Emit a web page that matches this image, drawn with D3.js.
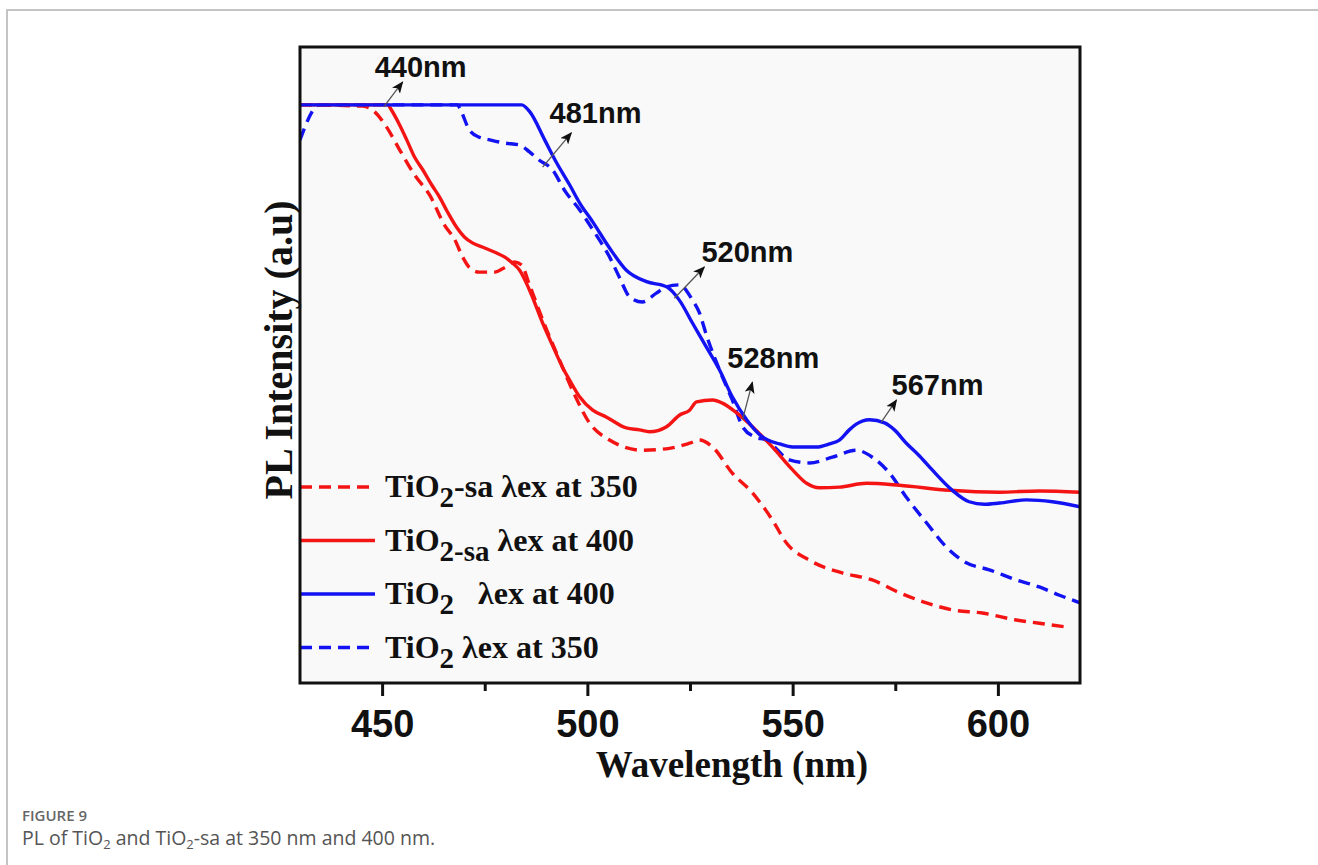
<!DOCTYPE html>
<html>
<head>
<meta charset="utf-8">
<script src="https://cdn.jsdelivr.net/npm/d3@7"></script>
<style>
  body { margin: 0; background: #fff; }
  svg { display: block; }
  text { white-space: pre; }
</style>
</head>
<body>
<svg id="chart" width="1318" height="865"></svg>
<script>
// PL spectra, [wavelength (nm), intensity (a.u.)]
var tio2sa350 = [[430,90.9],[445.3,90.7],[448.2,89.8],[451.1,87.4],[454.3,83.8],[457.9,79.9],[461.6,76.7],[465.2,72],[467.7,69.7],[469.6,67],[471.3,65.3],[473.7,64.6],[477.4,64.6],[479.8,65.3],[482.3,66.2],[484,65.7],[485.9,62.6],[489.6,56.3],[493.2,50.8],[496.9,45.3],[500.5,40.9],[505.4,38.2],[513.4,36.6],[520,36.9],[524.9,37.7],[527.3,38.2],[530.5,37.1],[535.3,33],[540.2,29.9],[545.1,25.6],[548.5,22],[554.1,19.3],[562.1,17.3],[569.4,16.2],[576,14.2],[582.6,12.6],[588.9,11.5],[596.2,11],[604.5,9.9],[610.1,9.4],[616.7,8.8]];
var tio2sa400 = [[430,90.9],[451.5,90.9],[451.8,90.6],[454.3,87.7],[456,85.4],[457.9,82.7],[459.9,80.7],[462.1,78.3],[464,76.4],[465.9,74.1],[468.1,71.7],[470.1,70.1],[472,69.2],[475,68.4],[477.9,67.6],[479.8,67],[481.8,66],[483.5,64.9],[485.9,61.8],[489.1,56.6],[491.5,53.1],[493.9,49.7],[495.7,47.6],[498.1,45],[501.3,42.9],[504.7,41.8],[509.5,40.1],[512.7,39.8],[515.1,39.5],[519.3,40.3],[522.4,42.1],[524.9,42.9],[526.6,44.2],[530.5,44.5],[532.9,44],[536.3,42.5],[540.2,40.3],[545.1,37.1],[550,33.5],[553.4,31.4],[556.5,30.7],[561.4,30.8],[568,31.4],[576,31.1],[588.2,30.3],[600.4,30],[610.1,30.2],[620,30]];
var tio2_400 = [[430,90.9],[484,90.9],[486,89.8],[489.6,85.4],[492.5,81.8],[495.7,78.3],[498.1,75.5],[501.3,72.5],[505.4,68.4],[509.5,64.9],[514.4,63.1],[519.3,62.3],[522.4,60.2],[525.6,56.6],[529,52.8],[532.2,49.2],[535.3,45],[538.8,41.4],[542.6,38.7],[546.8,37.6],[550,37.1],[555.8,37.1],[559,37.6],[561.4,38.2],[563.8,39.8],[565.5,40.7],[568.7,41.4],[572.4,40.9],[574.8,39.8],[577.7,37.7],[580.9,35.7],[584,33.5],[588.9,30.3],[593,28.5],[596.7,28.1],[600.4,28.3],[606.9,28.8],[613.3,28.5],[620,27.7]];
var tio2_350 = [[430,85.4],[434.8,90.9],[468.4,90.9],[468.9,90.4],[471.3,86.9],[473.7,85.8],[476.2,85.4],[479.8,84.9],[483.5,84.6],[485.9,83.5],[488.3,82.2],[491.5,80.7],[494.4,77.5],[498.1,74.4],[501.7,70.9],[505.4,67],[507.8,63.8],[510.3,60.7],[513.4,59.9],[516.8,61.3],[519.3,62.3],[522.4,62.6],[525.6,60.2],[527.3,58.2],[529,54.7],[532.2,49.2],[535.3,44.5],[537.8,40.3],[540.7,38.7],[543.6,38.2],[549.2,35.1],[554.1,34.6],[559.7,35.5],[565.5,36.6],[569.4,35.5],[573.6,33],[577.7,29.2],[582.6,25.2],[587.4,21.4],[592.3,18.9],[597.9,17.8],[604.5,16.2],[610.1,15.1],[615,13.8],[620,12.6]];

var majorTicks = [450, 500, 550, 600];
var minorTicks = [475, 525, 575];

// peak annotations: label, label anchor, arrow tail, arrow tip (data units)
var peakLabels = ["440nm", "481nm", "520nm", "528nm", "567nm"];
var peakTextAt = [[448.2,95.3],[490.8,88.1],[527.8,66.2],[534.1,49.5],[574.1,45.3]];
var peakArrowFrom = [[450.4,90.6],[489.1,81.1],[521.2,60.5],[537.8,41.4],[571.6,41.0]];
var peakArrowTo = [[455.0,94.5],[496.1,86.5],[528.5,65.4],[540.2,47.3],[575.3,44.5]];

// legend rows, in the order of the figure legend
var legendMain = ["TiO", "TiO", "TiO", "TiO"];
var legendSub = ["2", "2-sa", "2", "2"];
var legendRest = ["-sa \u03bbex at 350", " \u03bbex at 400", "   \u03bbex at 400", " \u03bbex at 350"];

var RED = "#f41414", BLUE = "#1212f2";
var series = [
  {data: tio2sa350, color: RED, dash: "12,7"},
  {data: tio2_350, color: BLUE, dash: "12,7"},
  {data: tio2sa400, color: RED, dash: null},
  {data: tio2_400, color: BLUE, dash: null}
];
var legendSeries = [series[0], series[2], series[3], series[1]];

var svg = d3.select("#chart");

var margin = {top: 47, right: 238, bottom: 182, left: 300},
    width = 1318 - margin.left - margin.right,
    height = 865 - margin.top - margin.bottom;

var x = d3.scaleLinear().domain([430, 620]).range([0, width]);
var y = d3.scaleLinear().domain([0, 100]).range([height, 0]);

// page frame lines
svg.append("path")
    .attr("d", "M7,865 V10 H1318")
    .attr("fill", "none")
    .attr("stroke", "#c4c4c4")
    .attr("stroke-width", 2);

var g = svg.append("g")
    .attr("transform", "translate(" + margin.left + "," + margin.top + ")");

g.append("rect")
    .attr("width", width)
    .attr("height", height)
    .attr("fill", "#f9f9f9");

var defs = svg.append("defs");
defs.append("clipPath").attr("id", "plot-clip")
  .append("rect").attr("width", width).attr("height", height);

defs.append("marker")
    .attr("id", "arrow-head")
    .attr("markerUnits", "userSpaceOnUse")
    .attr("viewBox", "0 0 12 10")
    .attr("refX", 11).attr("refY", 5)
    .attr("markerWidth", 12).attr("markerHeight", 10)
    .attr("orient", "auto")
  .append("path")
    .attr("d", "M0,0 L12,5 L0,10 L3,5 z")
    .attr("fill", "#111");

// spectra
var line = d3.line()
    .x(function(d) { return x(d[0]); })
    .y(function(d) { return y(d[1]); })
    .curve(d3.curveMonotoneX);

g.append("g")
    .attr("clip-path", "url(#plot-clip)")
  .selectAll("path")
  .data(series)
  .enter().append("path")
    .attr("d", function(d) { return line(d.data); })
    .attr("fill", "none")
    .attr("stroke", function(d) { return d.color; })
    .attr("stroke-width", 3.4)
    .attr("stroke-dasharray", function(d) { return d.dash; })
    .attr("stroke-linejoin", "round");

// annotations
var ann = g.append("g");
peakLabels.forEach(function(lbl, i) {
  ann.append("line")
      .attr("x1", x(peakArrowFrom[i][0])).attr("y1", y(peakArrowFrom[i][1]))
      .attr("x2", x(peakArrowTo[i][0])).attr("y2", y(peakArrowTo[i][1]))
      .attr("stroke", "#555")
      .attr("stroke-width", 1.3)
      .attr("marker-end", "url(#arrow-head)");
  ann.append("text")
      .attr("x", x(peakTextAt[i][0]))
      .attr("y", y(peakTextAt[i][1]))
      .attr("font-family", "'Liberation Sans', Arial, sans-serif")
      .attr("font-weight", "bold")
      .attr("font-size", 29)
      .attr("fill", "#111")
      .text(lbl);
});

// legend
var legend = g.append("g");
legendSeries.forEach(function(s, i) {
  var ly = 440 + i * 53.5;
  legend.append("line")
      .attr("x1", 0).attr("x2", 75)
      .attr("y1", ly).attr("y2", ly)
      .attr("stroke", s.color)
      .attr("stroke-width", 3.4)
      .attr("stroke-dasharray", s.dash);
  var t = legend.append("text")
      .attr("x", 85)
      .attr("y", ly + 10)
      .attr("font-family", "'Liberation Serif', 'Times New Roman', serif")
      .attr("font-weight", "bold")
      .attr("font-size", 32)
      .attr("fill", "#111");
  t.append("tspan").text(legendMain[i]);
  t.append("tspan").attr("dy", 10).attr("font-size", 29).text(legendSub[i]);
  t.append("tspan").attr("dy", -10).text(legendRest[i]);
});

// frame
g.append("rect")
    .attr("width", width)
    .attr("height", height)
    .attr("fill", "none")
    .attr("stroke", "#111")
    .attr("stroke-width", 3);

// x axis, major + minor ticks
var xAxis = g.append("g")
    .attr("class", "axis")
    .attr("transform", "translate(0," + height + ")")
    .call(d3.axisBottom(x).tickValues(majorTicks).tickSize(13).tickPadding(14).tickFormat(d3.format("d")));

xAxis.select(".domain").remove();
xAxis.selectAll("line").attr("stroke", "#111").attr("stroke-width", 3);
xAxis.selectAll("text")
    .attr("font-family", "'Liberation Sans', Arial, sans-serif")
    .attr("font-weight", "bold")
    .attr("font-size", 38)
    .attr("fill", "#111");

var xMinor = g.append("g")
    .attr("transform", "translate(0," + height + ")")
    .call(d3.axisBottom(x).tickValues(minorTicks).tickSize(8).tickFormat(""));
xMinor.select(".domain").remove();
xMinor.selectAll("line").attr("stroke", "#111").attr("stroke-width", 3);

// axis titles
svg.append("text")
    .attr("x", 732)
    .attr("y", 777)
    .attr("text-anchor", "middle")
    .attr("font-family", "'Liberation Serif', 'Times New Roman', serif")
    .attr("font-weight", "bold")
    .attr("font-size", 37)
    .attr("fill", "#111")
    .text("Wavelength (nm)");

svg.append("text")
    .attr("transform", "translate(292,350) rotate(-90)")
    .attr("text-anchor", "middle")
    .attr("font-family", "'Liberation Serif', 'Times New Roman', serif")
    .attr("font-weight", "bold")
    .attr("font-size", 40)
    .attr("fill", "#111")
    .text("PL Intensity (a.u)");

// caption
svg.append("text")
    .attr("x", 22).attr("y", 821)
    .attr("font-family", "'Open Sans', sans-serif")
    .attr("font-weight", 600)
    .attr("font-size", 15)
    .attr("fill", "#666")
    .text("FIGURE 9");

var cap = svg.append("text")
    .attr("x", 22).attr("y", 845)
    .attr("font-family", "'Open Sans', sans-serif")
    .attr("font-size", 19.5)
    .attr("fill", "#555");
cap.append("tspan").text("PL of TiO");
cap.append("tspan").attr("dy", 4).attr("font-size", 13).text("2");
cap.append("tspan").attr("dy", -4).text(" and TiO");
cap.append("tspan").attr("dy", 4).attr("font-size", 13).text("2");
cap.append("tspan").attr("dy", -4).text("-sa at 350 nm and 400 nm.");
</script>
</body>
</html>
